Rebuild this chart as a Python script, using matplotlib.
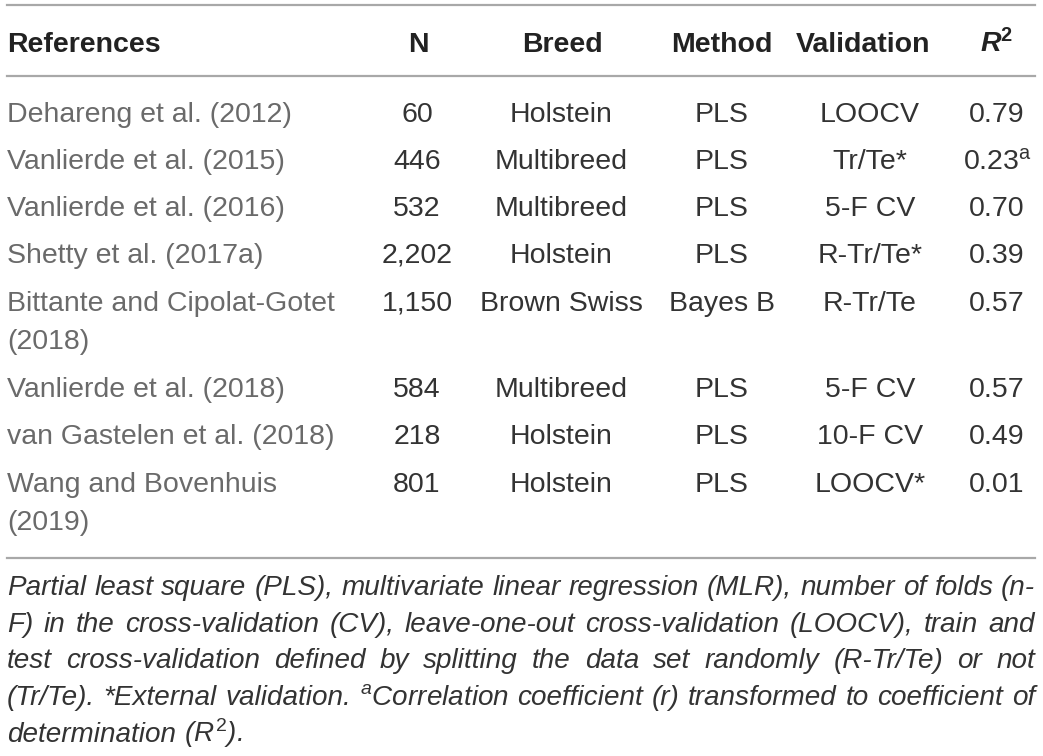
import matplotlib
matplotlib.use("Agg")
import matplotlib.pyplot as plt
from matplotlib.lines import Line2D

plt.rcParams['font.family'] = ['Liberation Sans', 'DejaVu Sans']
plt.rcParams['mathtext.fontset'] = 'custom'
plt.rcParams['mathtext.rm'] = 'Liberation Sans'
plt.rcParams['mathtext.it'] = 'Liberation Sans:italic'
plt.rcParams['mathtext.bf'] = 'Liberation Sans:bold'
plt.rcParams['mathtext.bfit'] = 'Liberation Sans:bold:italic'

# ---------------- data ----------------
headers = ["References", "N", "Breed", "Method", "Validation", r"$\mathbfit{R}^{\mathbf{2}}$"]
references = ["Dehareng et al. (2012)", "Vanlierde et al. (2015)", "Vanlierde et al. (2016)",
              "Shetty et al. (2017a)", "Bittante and Cipolat-Gotet\n(2018)",
              "Vanlierde et al. (2018)", "van Gastelen et al. (2018)", "Wang and Bovenhuis\n(2019)"]
n_values = ["60", "446", "532", "2,202", "1,150", "584", "218", "801"]
breeds = ["Holstein", "Multibreed", "Multibreed", "Holstein", "Brown Swiss",
          "Multibreed", "Holstein", "Holstein"]
methods = ["PLS", "PLS", "PLS", "PLS", "Bayes B", "PLS", "PLS", "PLS"]
validations = ["LOOCV", "Tr/Te*", "5-F CV", "R-Tr/Te*", "R-Tr/Te", "5-F CV", "10-F CV", "LOOCV*"]
r2_values = ["0.79", r"0.23$^{\mathrm{a}}$", "0.70", "0.39", "0.57", "0.57", "0.49", "0.01"]
footnote_lines = [
    "Partial least square (PLS), multivariate linear regression (MLR), number of folds (n-",
    "F) in the cross-validation (CV), leave-one-out cross-validation (LOOCV), train and",
    "test cross-validation defined by splitting the data set randomly (R-Tr/Te) or not",
    r"(Tr/Te). *External validation. ${}^{a}$Correlation coefficient (r) transformed to coefficient of",
    r"determination ($R^{2}$).",
]

# ---------------- layout ----------------
W, H = 1043, 756
fig = plt.figure(figsize=(W / 100, H / 100), dpi=100)
fig.patch.set_facecolor("white")
renderer = fig.canvas.get_renderer()


def fx(px):
    return px / W


def fy(py):
    return 1 - py / H


LEFT, RIGHT = 7, 1035
line_color = "#a8a8a8"
for yy in (5, 76, 558):
    fig.add_artist(Line2D([fx(LEFT), fx(RIGHT)], [fy(yy), fy(yy)],
                          transform=fig.transFigure, color=line_color, lw=1.6))

body_size = 20.5
header_x = [LEFT, 418, 562, 722, 863, 997]
header_base = 52
for i, h in enumerate(headers):
    fig.text(fx(header_x[i]), fy(header_base), h, fontsize=body_size, fontweight="bold",
             color="#222222", ha="left" if i == 0 else "center", va="baseline")

row_base = [122, 169, 216, 263, 311, 397, 444, 492]
line_gap = 38
col_x = [417, 561, 722, 870, 997]
columns = [n_values, breeds, methods, validations, r2_values]

for r, ref in enumerate(references):
    for k, part in enumerate(ref.split("\n")):
        fig.text(fx(LEFT), fy(row_base[r] + k * line_gap), part, fontsize=body_size,
                 color="#6a6a6a", ha="left", va="baseline")
    for c, col in enumerate(columns):
        fig.text(fx(col_x[c]), fy(row_base[r]), col[r], fontsize=body_size,
                 color="#333333", ha="center", va="baseline")

# footnote: fit font size so that the first line fills the width, then justify
probe = fig.text(0, 0, footnote_lines[0], fontsize=17, fontstyle="italic")
nat_w = probe.get_window_extent(renderer=renderer).width
probe.remove()
foot_size = 17 * (RIGHT - LEFT - 4) / nat_w

sp = fig.text(0, 0, "a a", fontsize=foot_size, fontstyle="italic")
sp2 = fig.text(0, 0, "aa", fontsize=foot_size, fontstyle="italic")
space_w = sp.get_window_extent(renderer=renderer).width - sp2.get_window_extent(renderer=renderer).width
sp.remove()
sp2.remove()

foot_base = [595, 632, 668, 705, 742]
for li, line in enumerate(footnote_lines):
    words = line.split(" ")
    texts, widths = [], []
    for w in words:
        t = fig.text(0, 0, w, fontsize=foot_size, fontstyle="italic", color="#333333",
                     ha="left", va="baseline")
        texts.append(t)
        widths.append(t.get_window_extent(renderer=renderer).width)
    if li < len(footnote_lines) - 1 and len(words) > 1:
        gap = (RIGHT - LEFT - sum(widths)) / (len(words) - 1)
    else:
        gap = space_w
    x = LEFT
    for t, w in zip(texts, widths):
        t.set_position((fx(x), fy(foot_base[li])))
        x += w + gap

fig.savefig("out.png", dpi=100, facecolor="white")
